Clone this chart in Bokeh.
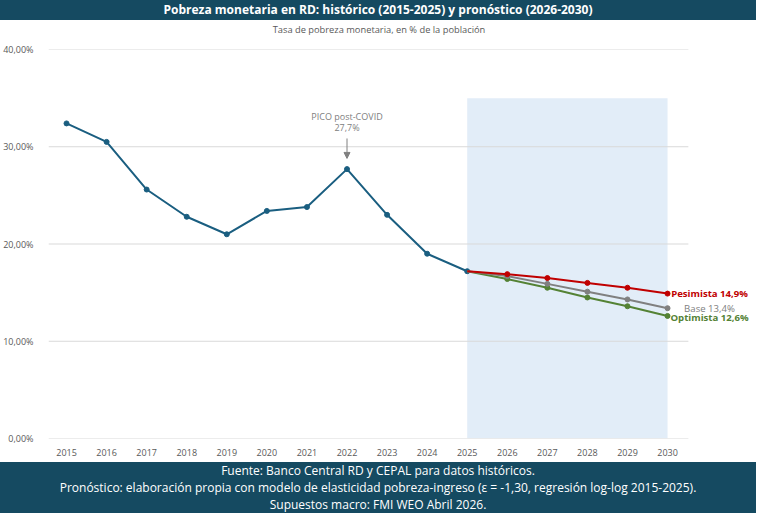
from bokeh.plotting import figure
from bokeh.models import (ColumnDataSource, BoxAnnotation, Arrow, NormalHead,
                          FixedTicker, Div)
from bokeh.layouts import column
from bokeh.core.properties import value
from bokeh.embed import file_html
from bokeh.resources import INLINE

# Historical monetary poverty rate (% of population)
hist_years = [2015, 2016, 2017, 2018, 2019, 2020, 2021, 2022, 2023, 2024, 2025]
hist_rate = [32.4, 30.5, 25.6, 22.8, 21.0, 23.4, 23.8, 27.7, 23.0, 19.0, 17.2]
peak_year = 2022  # post-COVID peak

# Forecast scenarios, starting from the last observed year
fc_years = [2025, 2026, 2027, 2028, 2029, 2030]
pesimista = [17.2, 16.9, 16.5, 16.0, 15.5, 14.9]
base = [17.2, 16.7, 15.9, 15.1, 14.3, 13.4]
optimista = [17.2, 16.4, 15.5, 14.5, 13.6, 12.6]

x_ticks = list(range(2015, 2031))
y_ticks = [0, 10, 20, 30, 40]
y_tick_labels = ["0,00%", "10,00%", "20,00%", "30,00%", "40,00%"]

TITLE = "Pobreza monetaria en RD: histórico (2015-2025) y pronóstico (2026-2030)"
SUBTITLE = "Tasa de pobreza monetaria, en % de la población"
FOOTER = [
    "Fuente: Banco Central RD y CEPAL para datos históricos.",
    "Pronóstico: elaboración propia con modelo de elasticidad pobreza-ingreso (ε = -1,30, regresión log-log 2015-2025).",
    "Supuestos macro: FMI WEO Abril 2026.",
]

NAVY = "#154a61"
FONT = "Open Sans"

# x extent of the plotting area; the frame runs on to the right edge so the
# scenario labels have room, while grid lines stop just after 2030
X0, X1 = 2014.55, 2032.22
GRID_X_END = 2030.52


def pct(v):
    return f"{v:.1f}".replace(".", ",") + "%"


p = figure(frame_width=708, frame_height=389, output_backend="svg",
           toolbar_location=None, x_range=(X0, X1), y_range=(0, 40),
           min_border_left=46, min_border_right=0, min_border_top=9,
           min_border_bottom=24, outline_line_color=None)

# forecast period shading
p.add_layout(BoxAnnotation(left=2025, right=2030, bottom=0, top=35,
                           fill_color="#e2edf8", fill_alpha=1.0,
                           line_color=None, level="image"))

# horizontal grid lines
p.xgrid.grid_line_color = None
p.ygrid.grid_line_color = None
p.segment(x0=[X0] * len(y_ticks), x1=[GRID_X_END] * len(y_ticks),
          y0=y_ticks, y1=y_ticks, line_color="#d9d9d9", line_width=1)

p.xaxis.ticker = FixedTicker(ticks=x_ticks)
p.yaxis.ticker = FixedTicker(ticks=y_ticks)
p.yaxis.major_label_overrides = dict(zip(y_ticks, y_tick_labels))
for ax in (p.xaxis, p.yaxis):
    ax.axis_line_color = None
    ax.major_tick_line_color = None
    ax.minor_tick_line_color = None
    ax.major_label_text_font = FONT
    ax.major_label_text_font_size = "9px"
    ax.major_label_text_color = "#595959"
p.xaxis.major_label_standoff = 4
p.yaxis.major_label_standoff = 9

# historical series
p.line(hist_years, hist_rate, line_color="#1a5e80", line_width=2)
p.scatter(hist_years, hist_rate, size=5, color="#1a5e80")

# scenario lines with end labels (name, values, colour, weight, label nudge px)
scenarios = [
    ("Optimista", optimista, "#548235", "bold", 2),
    ("Base", base, "#808080", "normal", 0),
    ("Pesimista", pesimista, "#c00000", "bold", 0),
]
for name, vals, col, weight, dy in scenarios:
    p.line(fc_years, vals, line_color=col, line_width=2)
    p.scatter(fc_years[1:], vals[1:], size=5, color=col)
    lab = ColumnDataSource(dict(x=[fc_years[-1]], y=[vals[-1]],
                                t=[f"{name} {pct(vals[-1])}"]))
    p.text(x="x", y="y", text="t", source=lab, x_offset=42, y_offset=dy,
           text_align="center", text_baseline="middle",
           text_font=value(FONT), text_font_size="9.6px",
           text_font_style=weight, text_color=col)

# post-COVID peak annotation
pv = hist_rate[hist_years.index(peak_year)]
p.add_layout(Arrow(end=NormalHead(size=6, fill_color="#808080", line_color="#808080"),
                   x_start=peak_year, y_start=pv + 3.15, x_end=peak_year, y_end=pv + 1.1,
                   line_color="#808080", line_width=1))
ann = ColumnDataSource(dict(x=[peak_year, peak_year], y=[pv + 5.4, pv + 4.3],
                            t=["PICO post-COVID", pct(pv)]))
p.text(x="x", y="y", text="t", source=ann, text_align="center",
       text_baseline="middle", text_font=value(FONT), text_font_size="9px",
       text_color="#808080")

header_div = Div(
    text=(f'<div style="width:756px;height:20px;background:{NAVY};color:#ffffff;'
          f"font-family:'{FONT}';font-weight:bold;font-size:12px;line-height:20px;"
          f'text-align:center;">{TITLE}</div>'
          f'<div style="width:758px;height:20px;color:#595959;'
          f"font-family:'{FONT}';font-size:9.3px;line-height:20px;"
          f'text-align:center;">{SUBTITLE}</div>'),
    width=758, height=40, margin=(0, 0, 0, 0))

footer_div = Div(
    text=(f'<div style="width:756px;height:51px;background:{NAVY};color:#ffffff;'
          f"font-family:'{FONT}';font-size:12px;line-height:17px;"
          f'text-align:center;">' + "<br>".join(FOOTER) + "</div>"),
    width=758, height=51, margin=(0, 0, 0, 0))

layout = column(header_div, p, footer_div, spacing=0)

open("out.html", "w").write(file_html(layout, INLINE))
